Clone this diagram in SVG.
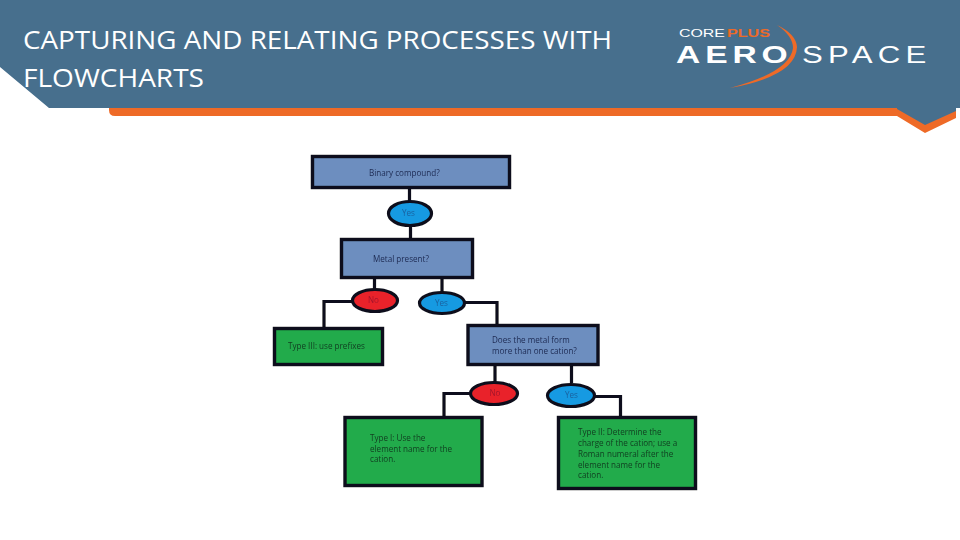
<svg xmlns="http://www.w3.org/2000/svg" width="960" height="540" viewBox="0 0 960 540">
<defs><filter id="soft" x="-5%" y="-5%" width="110%" height="110%"><feGaussianBlur stdDeviation="0.4"/></filter></defs>
<style>
.title{font-family:"Open Sans","Liberation Sans",sans-serif;font-size:26px;font-weight:400;fill:#fff}
.box{stroke:#0c0f1a;stroke-width:3.400}
.q{fill:#6d8ebf}.g{fill:#22ab4b}.r{fill:#e9232b}.b{fill:#159ae2}
.e{stroke:#0c0f1a;stroke-width:3.200}
.t{font-family:"Open Sans","Liberation Sans",sans-serif;font-size:8.100px;fill:#1d2a52}
.tg{fill:#123d20}.tr{fill:#a5162a;text-anchor:middle}.tb{fill:#1c62a0;text-anchor:middle}
.c{fill:none;stroke:#0c0f1a;stroke-width:3.200}
.lg{font-family:"Liberation Sans",Arial,sans-serif}
</style>
<g id="header">
<polygon points="0,0 960,0 960,108 956,108 956,112 925,126 897,110 897,108 49,108 0,67" fill="#476f8d"/>
<path d="M109 108H897V116H115Q109 116 109 110Z" fill="#ee6a27"/>
<polygon points="897,109 925,125 956,111 956,118 925,133 897,116" fill="#ee6a27"/>
<text class="title" x="23" y="49" textLength="589" lengthAdjust="spacingAndGlyphs">CAPTURING AND RELATING PROCESSES WITH</text>
<text class="title" x="23" y="87" textLength="181" lengthAdjust="spacingAndGlyphs">FLOWCHARTS</text>
</g>
<g id="logo">
<text class="lg" x="679" y="37" font-size="10" fill="#fff" textLength="46" lengthAdjust="spacingAndGlyphs">CORE</text>
<text class="lg" x="727" y="37" font-size="10" font-weight="700" fill="#ee6a27" textLength="43" lengthAdjust="spacingAndGlyphs">PLUS</text>
<text class="lg" transform="translate(676,63) scale(1.4,1)" font-size="24" font-weight="700" fill="#fff" letter-spacing="3.500">AERO</text>
<text class="lg" transform="translate(802,63) scale(1.3,1)" font-size="24" fill="#fff" letter-spacing="4">SPACE</text>
<path d="M777 25Q796 34 797 47Q796 76 730 88Q790 72 793 48Q793 36 777 25Z" fill="#ee6a27"/>
</g>
<g id="connectors" filter="url(#soft)">
<path class="c" d="M409.500 189V202M410.500 224V238M374.500 279V291M442 279V292"/>
<path class="c" d="M354 301.500H324V327"/>
<path class="c" d="M464 302.500H497V324"/>
<path class="c" d="M495 366V382M571.500 366V383"/>
<path class="c" d="M470 393.500H444V416"/>
<path class="c" d="M594 396.500H620.500V416"/>
</g>
<g id="n1" filter="url(#soft)"><rect class="box q" x="312.500" y="156.500" width="197" height="31"/><text class="t" x="369" y="176">Binary compound?</text></g>
<g id="n2" filter="url(#soft)"><ellipse class="e b" cx="410" cy="213.500" rx="21.500" ry="12"/><text class="t tb" x="408.500" y="216">Yes</text></g>
<g id="n3" filter="url(#soft)"><rect class="box q" x="341.500" y="239.500" width="131" height="38"/><text class="t" x="373" y="262">Metal present?</text></g>
<g id="n4" filter="url(#soft)"><ellipse class="e r" cx="375" cy="300.500" rx="22.500" ry="11"/><text class="t tr" x="373.500" y="303">No</text></g>
<g id="n5" filter="url(#soft)"><ellipse class="e b" cx="442" cy="303" rx="22.500" ry="10.500"/><text class="t tb" x="441.500" y="306">Yes</text></g>
<g id="n6" filter="url(#soft)"><rect class="box g" x="274.500" y="328.500" width="108" height="36"/><text class="t tg" x="288" y="349">Type III: use prefixes</text></g>
<g id="n7" filter="url(#soft)"><rect class="box q" x="468" y="325.500" width="130" height="39"/><text class="t" x="492" y="343">Does the metal form</text><text class="t" x="492" y="354">more than one cation?</text></g>
<g id="n8" filter="url(#soft)"><ellipse class="e r" cx="494" cy="393.500" rx="23.500" ry="11"/><text class="t tr" x="495" y="396">No</text></g>
<g id="n9" filter="url(#soft)"><ellipse class="e b" cx="571" cy="395.500" rx="23.500" ry="11"/><text class="t tb" x="571.500" y="398">Yes</text></g>
<g id="n10" filter="url(#soft)"><rect class="box g" x="345" y="417.500" width="137" height="68"/><text class="t tg" x="370" y="441">Type I: Use the</text><text class="t tg" x="370" y="452">element name for the</text><text class="t tg" x="370" y="462">cation.</text></g>
<g id="n11" filter="url(#soft)"><rect class="box g" x="558.500" y="417.500" width="137" height="71"/><text class="t tg" x="578" y="435">Type II: Determine the</text><text class="t tg" x="578" y="446">charge of the cation; use a</text><text class="t tg" x="578" y="457">Roman numeral after the</text><text class="t tg" x="578" y="468">element name for the</text><text class="t tg" x="578" y="478">cation.</text></g>
</svg>
